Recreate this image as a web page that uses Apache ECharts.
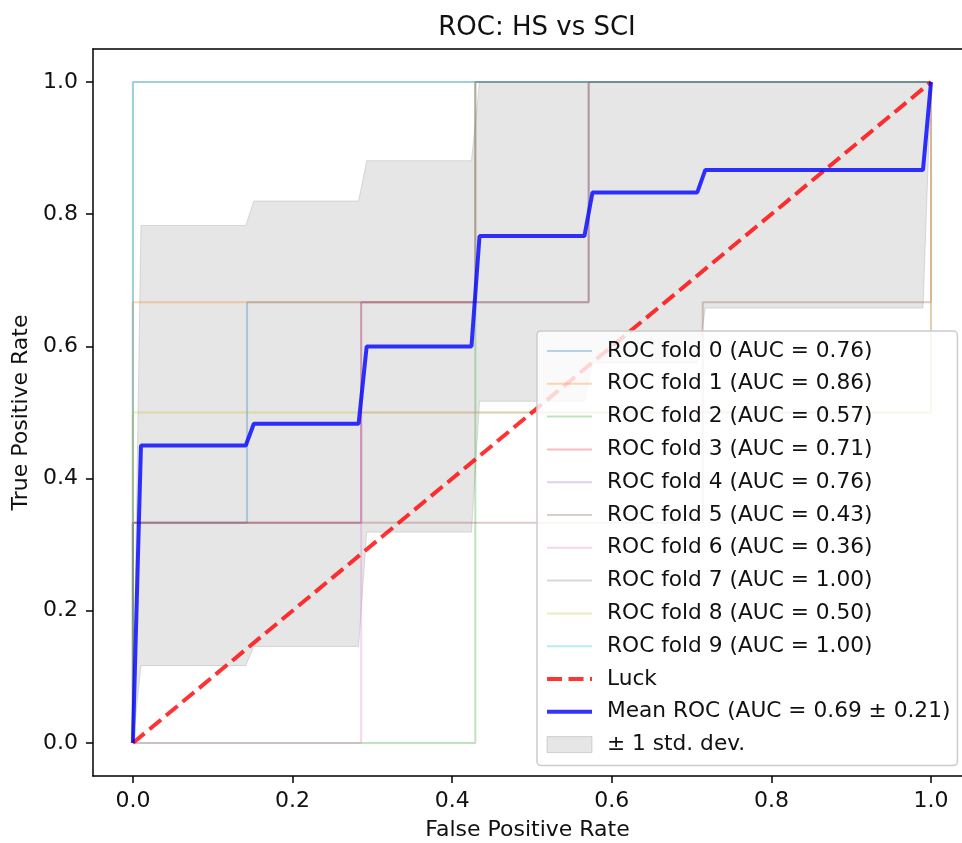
<!DOCTYPE html>
<html>
<head>
<meta charset="utf-8">
<script src="https://cdn.jsdelivr.net/npm/echarts@6/dist/echarts.min.js"></script>
<style>
  html, body { margin: 0; padding: 0; background: #fff; }
  #chart { width: 962px; height: 843px; }
</style>
</head>
<body>
<div id="chart"></div>
<script>
// tick positions on both axes
var tickValues = [0, 0.2, 0.4, 0.6, 0.8, 1.0];

// per-fold ROC curves, [fpr, tpr] corner points
var fold0 = [[0, 0], [0, 0.333], [0.143, 0.333], [0.143, 0.667], [0.571, 0.667], [0.571, 1], [1, 1]];
var fold1 = [[0, 0], [0, 0.667], [0.429, 0.667], [0.429, 1], [1, 1]];
var fold2 = [[0, 0], [0.429, 0], [0.429, 1], [1, 1]];
var fold3 = [[0, 0], [0, 0.333], [0.286, 0.333], [0.286, 0.667], [0.571, 0.667], [0.571, 1], [1, 1]];
var fold4 = [[0, 0], [0, 0.333], [0.286, 0.333], [0.286, 0.667], [0.429, 0.667], [0.429, 1], [1, 1]];
var fold5 = [[0, 0], [0, 0.333], [0.714, 0.333], [0.714, 0.667], [1, 0.667], [1, 1]];
var fold6 = [[0, 0], [0.286, 0], [0.286, 0.5], [1, 0.5], [1, 1]];
var fold7 = [[0, 0], [0, 1], [1, 1]];
var fold8 = [[0, 0], [0, 0.5], [1, 0.5], [1, 1]];
var fold9 = [[0, 0], [0, 1], [1, 1]];
var foldAuc = ['0.76', '0.86', '0.57', '0.71', '0.76', '0.43', '0.36', '1.00', '0.50', '1.00'];

// chance diagonal
var luckX = [0, 1];
var luckY = [0, 1];

// mean ROC and the +/- 1 std band (same x positions)
var meanFpr = [0, 0.0101, 0.1414, 0.1515, 0.2828, 0.2929, 0.4242, 0.4343, 0.5657, 0.5758, 0.7071, 0.7172, 0.9899, 1.0];
var meanTpr = [0, 0.45, 0.45, 0.483, 0.483, 0.6, 0.6, 0.767, 0.767, 0.833, 0.833, 0.867, 0.867, 1.0];
var bandUpper = [0, 0.783, 0.783, 0.82, 0.82, 0.881, 0.881, 1, 1, 1, 1, 1, 1, 1];
var bandLower = [0, 0.117, 0.117, 0.146, 0.146, 0.319, 0.319, 0.517, 0.517, 0.575, 0.575, 0.658, 0.658, 1];

var folds = [fold0, fold1, fold2, fold3, fold4, fold5, fold6, fold7, fold8, fold9];
var foldColors = [
  'rgba(31,119,180,0.3)', 'rgba(255,127,14,0.3)', 'rgba(44,160,44,0.3)', 'rgba(214,39,40,0.3)',
  'rgba(148,103,189,0.3)', 'rgba(140,86,75,0.3)', 'rgba(227,119,194,0.3)', 'rgba(127,127,127,0.3)',
  'rgba(188,189,34,0.3)', 'rgba(23,190,207,0.3)'
];

var FONT = 'DejaVu Sans';
var bandName = '\u00b1 1 std. dev.';
var meanName = 'Mean ROC (AUC = 0.69 \u00b1 0.21)';

var series = [];
var legendData = [];
folds.forEach(function (pts, i) {
  var name = 'ROC fold ' + i + ' (AUC = ' + foldAuc[i] + ')';
  legendData.push(name);
  series.push({
    name: name,
    type: 'line',
    data: pts,
    symbol: 'none',
    color: foldColors[i],
    lineStyle: { width: 2, color: foldColors[i] }
  });
});

legendData.push('Luck');
series.push({
  name: 'Luck',
  type: 'line',
  data: luckX.map(function (x, i) { return [x, luckY[i]]; }),
  symbol: 'none',
  color: 'rgba(255,0,0,0.8)',
  lineStyle: { width: 4, color: 'rgba(255,0,0,0.8)', type: [15, 6.5] }
});

legendData.push(meanName);
series.push({
  name: meanName,
  type: 'line',
  data: meanFpr.map(function (x, i) { return [x, meanTpr[i]]; }),
  symbol: 'none',
  color: 'rgba(0,0,255,0.8)',
  lineStyle: { width: 4, color: 'rgba(0,0,255,0.8)' }
});

legendData.push({
  name: bandName,
  icon: 'rect',
  itemStyle: { color: 'rgba(128,128,128,0.2)', borderColor: 'rgba(128,128,128,0.3)', borderWidth: 1, opacity: 1 }
});
series.push({
  name: bandName,
  type: 'custom',
  color: 'rgba(128,128,128,0.2)',
  data: meanFpr.map(function (x, i) { return [x, bandLower[i], bandUpper[i]]; }),
  encode: { x: 0, y: [1, 2] },
  renderItem: function (params, api) {
    if (params.dataIndex !== 0) return null;
    var pts = [];
    for (var i = 0; i < meanFpr.length; i++) pts.push(api.coord([meanFpr[i], bandUpper[i]]));
    for (var j = meanFpr.length - 1; j >= 0; j--) pts.push(api.coord([meanFpr[j], bandLower[j]]));
    return {
      type: 'polygon',
      shape: { points: pts },
      style: { fill: 'rgba(128,128,128,0.2)', stroke: 'rgba(128,128,128,0.25)', lineWidth: 1 }
    };
  }
});

var axisLineStyle = { color: '#000', width: 1.5 };
var labelStyle = {
  customValues: tickValues,
  color: '#111',
  fontFamily: FONT,
  fontSize: 22,
  formatter: function (v) { return v.toFixed(1); }
};

var chart = echarts.init(document.getElementById('chart'), null, { renderer: 'canvas' });
chart.setOption({
  animation: false,
  backgroundColor: '#fff',
  title: {
    text: 'ROC: HS vs SCI',
    left: 532,
    top: 10,
    textAlign: 'center',
    textStyle: { color: '#111', fontFamily: FONT, fontSize: 26, fontWeight: 'normal' }
  },
  // the plot frame runs past the right edge of the picture, so the x range is cut there
  grid: { left: 93, top: 49, right: 0, height: 727, show: false, outerBoundsMode: 'none' },
  xAxis: [{
    type: 'value',
    min: -0.05,
    max: 1.0388,
    splitLine: { show: false },
    axisLine: { show: true, onZero: false, lineStyle: axisLineStyle },
    axisTick: { show: true, length: 7, customValues: tickValues, lineStyle: axisLineStyle },
    axisLabel: Object.assign({}, labelStyle, { margin: 14 }),
    name: 'False Positive Rate',
    nameLocation: 'middle',
    nameGap: 43,
    nameTextStyle: { color: '#111', fontFamily: FONT, fontSize: 22 }
  }, {
    type: 'value',
    position: 'top',
    min: -0.05,
    max: 1.0388,
    splitLine: { show: false },
    axisLine: { show: true, onZero: false, lineStyle: axisLineStyle },
    axisTick: { show: false },
    axisLabel: { show: false }
  }],
  yAxis: {
    type: 'value',
    min: -0.05,
    max: 1.05,
    splitLine: { show: false },
    axisLine: { show: true, onZero: false, lineStyle: axisLineStyle },
    axisTick: { show: true, length: 7, customValues: tickValues, lineStyle: axisLineStyle },
    axisLabel: Object.assign({}, labelStyle, { margin: 15 }),
    name: 'True Positive Rate',
    nameLocation: 'middle',
    nameGap: 60,
    nameTextStyle: { color: '#111', fontFamily: FONT, fontSize: 22 }
  },
  legend: {
    orient: 'vertical',
    left: 537,
    top: 331,
    padding: [9, 7, 10, 8],
    itemWidth: 45,
    itemHeight: 16,
    itemGap: 10.8,
    backgroundColor: 'rgba(255,255,255,0.8)',
    borderColor: '#ccc',
    borderWidth: 1.5,
    borderRadius: 4,
    selectedMode: false,
    itemStyle: { opacity: 0 },
    lineStyle: { width: 'inherit' },
    data: legendData,
    textStyle: { color: '#111', fontFamily: FONT, fontSize: 21.7, lineHeight: 22, padding: [0, 0, 0, 10] }
  },
  series: series
});
</script>
</body>
</html>
